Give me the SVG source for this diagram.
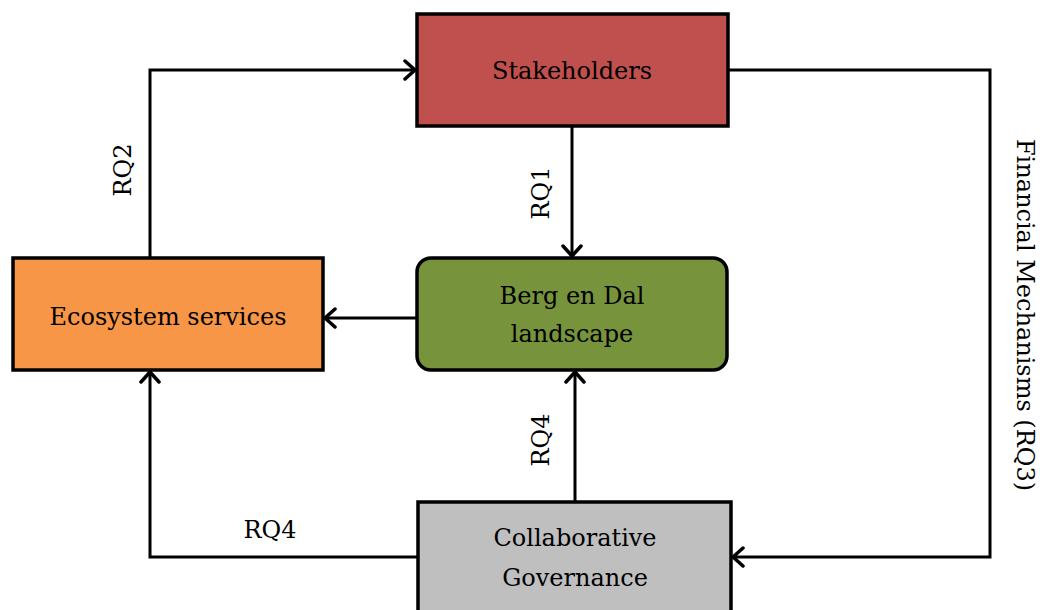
<svg xmlns="http://www.w3.org/2000/svg" width="1040" height="610" viewBox="0 0 1040 610">
  <style>
    .box { stroke: #000; stroke-width: 3.5; }
    .lbl { font-family: "DejaVu Serif", "Liberation Serif", serif; font-size: 24px; fill: #000; text-anchor: middle; }
    .edge { fill: none; stroke: #000; stroke-width: 3; marker-end: url(#chev); }
  </style>
  <defs>
    <marker id="chev" viewBox="0 0 14 22" refX="12" refY="11" markerWidth="14" markerHeight="22" markerUnits="userSpaceOnUse" orient="auto">
      <path d="M2,2 L12,11 L2,20" fill="none" stroke="#000" stroke-width="3.5" stroke-linecap="round" stroke-linejoin="round"/>
    </marker>
  </defs>

  <rect width="1040" height="610" fill="#fff"/>

  <g id="connectors">
    <line class="edge" x1="572" y1="126" x2="572" y2="256"/>
    <line class="edge" x1="417" y1="318" x2="325" y2="318"/>
    <polyline class="edge" points="150,258 150,70 415,70"/>
    <line class="edge" x1="575" y1="502" x2="575" y2="372"/>
    <polyline class="edge" points="418,557 150,557 150,372"/>
    <polyline class="edge" points="728,70 990,70 990,557 733,557"/>
    <text class="lbl" transform="translate(131,170) rotate(-90)">RQ2</text>
    <text class="lbl" transform="translate(549,193) rotate(-90)">RQ1</text>
    <text class="lbl" transform="translate(549,440) rotate(-90)">RQ4</text>
    <text class="lbl" x="270" y="538">RQ4</text>
    <text class="lbl" transform="translate(1017,315) rotate(90)">Financial Mechanisms (RQ3)</text>
  </g>

  <g id="stakeholders">
    <rect class="box" x="417" y="14" width="311" height="112" fill="#C0504D"/>
    <text class="lbl" x="572" y="79">Stakeholders</text>
  </g>

  <g id="berg-en-dal">
    <rect class="box" x="417" y="258" width="310" height="112" rx="14" fill="#77933C"/>
    <text class="lbl" x="572" y="304">Berg en Dal</text>
    <text class="lbl" x="572" y="342">landscape</text>
  </g>

  <g id="ecosystem-services">
    <rect class="box" x="13" y="258" width="310" height="112" fill="#F79646"/>
    <text class="lbl" x="168" y="325">Ecosystem services</text>
  </g>

  <g id="collaborative-governance">
    <rect class="box" x="418" y="502" width="313" height="120" fill="#BFBFBF"/>
    <text class="lbl" x="575" y="546">Collaborative</text>
    <text class="lbl" x="575" y="586">Governance</text>
  </g>
</svg>
